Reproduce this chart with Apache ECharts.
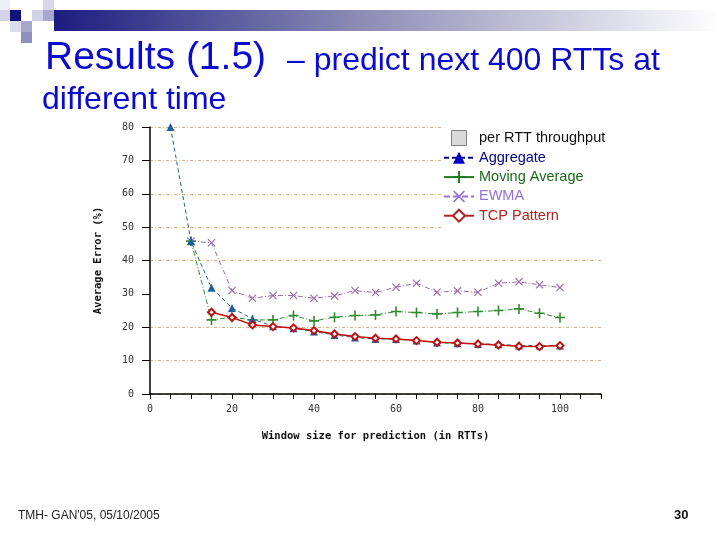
<!DOCTYPE html>
<html>
<head>
<meta charset="utf-8">
<script src="https://cdn.jsdelivr.net/npm/echarts@6/dist/echarts.min.js"></script>
<style>
html,body{margin:0;padding:0;background:#fff;}
#c{width:720px;height:540px;}
</style>
</head>
<body>
<div id="c"></div>
<script>
// ---- data ----
var windowSizes = [5, 10, 15, 20, 25, 30, 35, 40, 45, 50, 55, 60, 65, 70, 75, 80, 85, 90, 95, 100];
var aggregate   = [80, 45.8, 31.8, 25.8, 22.5, 20.3, 19.7, 18.7, 17.7, 16.9, 16.5, 16.5, 16.0, 15.4, 15.2, 15.0, 14.9, 14.5, 14.5, 14.5];
var movingAvg   = [null, 45.8, 22.2, 23.0, 22.2, 22.2, 23.5, 21.9, 23.0, 23.5, 23.7, 24.7, 24.4, 24.0, 24.4, 24.7, 25.0, 25.5, 24.2, 22.9];
var ewma        = [null, 45.8, 45.3, 31.0, 28.7, 29.5, 29.5, 28.7, 29.4, 31.0, 30.4, 32.0, 33.2, 30.5, 30.9, 30.5, 33.2, 33.6, 32.7, 31.9];
var tcpPattern  = [null, null, 24.5, 22.9, 20.7, 20.2, 19.8, 19.0, 18.0, 17.2, 16.7, 16.5, 16.0, 15.5, 15.3, 15.0, 14.7, 14.3, 14.2, 14.5];
var seriesNames = ['per RTT throughput', 'Aggregate', 'Moving Average', 'EWMA', 'TCP Pattern'];
var xLabelValues = [0, 20, 40, 60, 80, 100];

function pairs(vals) {
  var out = [];
  for (var i = 0; i < windowSizes.length; i++) {
    if (vals[i] !== null) out.push([windowSizes[i], vals[i]]);
  }
  return out;
}

var PLUS = 'path://M4.2,0h1.6v4.2h4.2v1.6h-4.2v4.2h-1.6v-4.2h-4.2v-1.6h4.2z';
var CROSS = 'path://M1,0L5,4L9,0L10,1L6,5L10,9L9,10L5,6L1,10L0,9L4,5L0,1Z';
var gridColors = [];
for (var g = 0; g <= 8; g++) gridColors.push(g === 3 ? 'rgba(0,0,0,0)' : '#d6b27a');

var chart = echarts.init(document.getElementById('c'), null, {renderer: 'canvas'});
var option = {
  backgroundColor: '#ffffff',
  animation: false,
  grid: {left: 150, right: 119, top: 127, bottom: 146, containLabel: false},
  xAxis: {
    type: 'value', min: 0, max: 110, interval: 5,
    name: 'Window size for prediction (in RTTs)',
    nameLocation: 'middle', nameGap: 37,
    nameTextStyle: {fontFamily: 'DejaVu Sans Mono', fontWeight: 'bold', fontSize: 10.5, color: '#111'},
    axisLine: {lineStyle: {color: '#000', width: 1.5}},
    axisTick: {inside: false, length: 5, lineStyle: {color: '#000'}},
    axisLabel: {
      margin: 10, fontFamily: 'DejaVu Sans Mono', fontSize: 10, color: '#333',
      formatter: function (v) { return xLabelValues.indexOf(v) >= 0 ? String(v) : ''; }
    },
    splitLine: {show: false}
  },
  yAxis: {
    type: 'value', min: 0, max: 80, interval: 10,
    name: 'Average Error (%)',
    nameLocation: 'middle', nameGap: 46, nameRotate: 90,
    nameTextStyle: {fontFamily: 'DejaVu Sans Mono', fontWeight: 'bold', fontSize: 10.5, color: '#111'},
    axisLine: {show: true, lineStyle: {color: '#000', width: 1.5}},
    axisTick: {show: true, length: 8, lineStyle: {color: '#000'}},
    axisLabel: {margin: 16, fontFamily: 'DejaVu Sans Mono', fontSize: 10, color: '#333'},
    splitLine: {show: true, lineStyle: {color: gridColors, type: [3, 2, 1, 2], width: 1}}
  },
  legend: {
    orient: 'vertical', left: 443, top: 123,
    padding: [7, 20, 14, 0],
    backgroundColor: '#ffffff',
    itemWidth: 30, itemHeight: 15, itemGap: 4.3,
    textStyle: {fontFamily: 'Liberation Sans', fontSize: 14.5},
    data: [
      {name: seriesNames[0], icon: 'path://M0,0h10v10h-10z',
       itemStyle: {color: '#d9d9d9', borderColor: '#808080', borderWidth: 1},
       textStyle: {color: '#111'}},
      {name: seriesNames[1], itemStyle: {color: '#0000c8'}, lineStyle: {color: '#000080', width: 2, type: [5, 3]},
       textStyle: {color: '#000080'}},
      {name: seriesNames[2], itemStyle: {color: '#1a7a1a'}, lineStyle: {color: '#1a7a1a', width: 2, type: 'solid'},
       textStyle: {color: '#1a6a1a'}},
      {name: seriesNames[3], itemStyle: {color: '#9370db'}, lineStyle: {color: '#9370db', width: 2, type: [6, 3]},
       textStyle: {color: '#9370db'}},
      {name: seriesNames[4], itemStyle: {color: '#b22222', borderColor: '#b22222'}, lineStyle: {color: '#b22222', width: 2, type: 'solid'},
       textStyle: {color: '#b22222'}}
    ]
  },
  series: [
    {name: seriesNames[0], type: 'line', data: [], symbol: 'none', itemStyle: {color: '#d9d9d9'}},
    {name: seriesNames[1], type: 'line', data: pairs(aggregate), z: 3,
     symbol: 'triangle', symbolSize: 8,
     itemStyle: {color: '#1f5fa0'},
     lineStyle: {color: '#2a5f80', width: 1, type: [4, 3]}},
    {name: seriesNames[2], type: 'line', data: pairs(movingAvg), z: 2,
     symbol: PLUS, symbolSize: 10,
     itemStyle: {color: '#2e8b2e'},
     lineStyle: {color: '#2e8b2e', width: 1, type: [5, 2, 1, 2]}},
    {name: seriesNames[3], type: 'line', data: pairs(ewma), z: 2,
     symbol: CROSS, symbolSize: 8,
     itemStyle: {color: '#9a6aa8'},
     lineStyle: {color: '#9a6aa8', width: 1, type: [5, 2, 1, 2]}},
    {name: seriesNames[4], type: 'line', data: pairs(tcpPattern), z: 4,
     symbol: 'emptyDiamond', symbolSize: 7,
     itemStyle: {color: '#c01010', borderColor: '#c01010', borderWidth: 1},
     lineStyle: {color: '#c01010', width: 1.5, type: 'solid'}}
  ],
  graphic: [
    {type: 'rect', shape: {x: 54, y: 10, width: 666, height: 21}, silent: true,
     style: {fill: new echarts.graphic.LinearGradient(0, 0, 1, 0, [
       {offset: 0, color: '#1c1c80'}, {offset: 0.45, color: '#8a8ab4'}, {offset: 1, color: '#ffffff'}])}},
    {type: 'rect', shape: {x: 0, y: 0, width: 10, height: 10}, style: {fill: '#eeeef6'}},
    {type: 'rect', shape: {x: 0, y: 10, width: 10, height: 11}, style: {fill: '#d4d4e8'}},
    {type: 'rect', shape: {x: 10, y: 10, width: 11, height: 11}, style: {fill: '#12127a'}},
    {type: 'rect', shape: {x: 10, y: 21, width: 11, height: 11}, style: {fill: '#dcdcec'}},
    {type: 'rect', shape: {x: 21, y: 21, width: 11, height: 11}, style: {fill: '#a8a8cc'}},
    {type: 'rect', shape: {x: 21, y: 32, width: 11, height: 11}, style: {fill: '#9090c0'}},
    {type: 'rect', shape: {x: 32, y: 10, width: 11, height: 11}, style: {fill: '#d0d0e6'}},
    {type: 'rect', shape: {x: 43, y: 0, width: 11, height: 10}, style: {fill: '#d8d8ea'}},
    {type: 'rect', shape: {x: 43, y: 10, width: 11, height: 11}, style: {fill: '#a8a8cc'}},
    {type: 'text', left: 45, top: 39, silent: true,
     style: {text: 'Results (1.5)', fontFamily: 'Liberation Sans', fontSize: 39, fill: '#0a0ad0'}},
    {type: 'text', left: 287, top: 45, silent: true,
     style: {text: '– predict next 400 RTTs at', fontFamily: 'Liberation Sans', fontSize: 32, fill: '#0a0ad0'}},
    {type: 'text', left: 42, top: 84, silent: true,
     style: {text: 'different time', fontFamily: 'Liberation Sans', fontSize: 32, fill: '#0a0ad0'}},
    {type: 'text', left: 18, top: 510, silent: true,
     style: {text: "TMH- GAN'05, 05/10/2005", fontFamily: 'Liberation Sans Narrow, Liberation Sans', fontSize: 12, fill: '#222'}},
    {type: 'text', left: 674, top: 509, silent: true,
     style: {text: '30', fontFamily: 'Liberation Sans', fontWeight: 'bold', fontSize: 13, fill: '#111'}}
  ]
};
chart.setOption(option);
</script>
</body>
</html>
